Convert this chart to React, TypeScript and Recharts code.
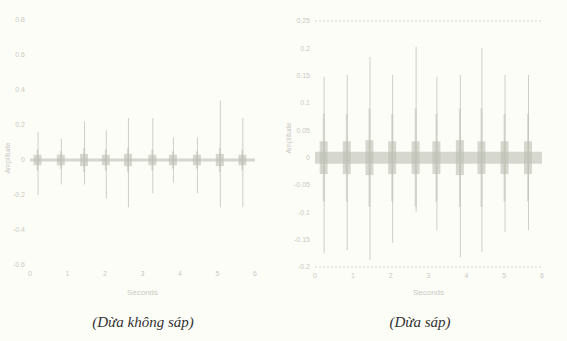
import { ComposedChart, Bar, XAxis, YAxis, ReferenceArea, ReferenceLine } from 'recharts';

// Left panel (Dừa không sáp): burst times in seconds and spike extents
const leftTimes = [0.21, 0.83, 1.45, 2.03, 2.62, 3.27, 3.82, 4.46, 5.07, 5.67];
const leftHigh = [0.16, 0.12, 0.22, 0.17, 0.24, 0.24, 0.13, 0.13, 0.34, 0.24];
const leftLow = [-0.2, -0.14, -0.14, -0.22, -0.27, -0.19, -0.13, -0.19, -0.27, -0.27];
const leftMid = [0.06, 0.05, 0.07, 0.06, 0.07, 0.06, 0.05, 0.05, 0.07, 0.06];
const leftCore = [0.03, 0.03, 0.035, 0.03, 0.035, 0.03, 0.03, 0.03, 0.035, 0.03];
const leftYTicks = [-0.6, -0.4, -0.2, 0, 0.2, 0.4, 0.6, 0.8];
const leftNoise = 0.008;

// Right panel (Dừa sáp)
const rightTimes = [0.24, 0.85, 1.45, 2.05, 2.67, 3.22, 3.84, 4.41, 5.02, 5.64];
const rightHigh = [0.148, 0.151, 0.184, 0.151, 0.203, 0.148, 0.151, 0.2, 0.151, 0.151];
const rightLow = [-0.175, -0.169, -0.187, -0.156, -0.1, -0.133, -0.182, -0.173, -0.136, -0.133];
const rightMid = [0.08, 0.08, 0.09, 0.08, 0.09, 0.08, 0.09, 0.09, 0.08, 0.08];
const rightCore = [0.03, 0.03, 0.032, 0.03, 0.03, 0.03, 0.032, 0.03, 0.03, 0.03];
const rightYTicks = [-0.2, -0.15, -0.1, -0.05, 0, 0.05, 0.1, 0.15, 0.2, 0.25];
const rightNoise = 0.011;

const xTicks = [0, 1, 2, 3, 4, 5, 6];

const inkLight = '#cdcfc6';
const inkDense = '#bcbfb4';
const textColor = '#c9cac3';
const sans = 'Liberation Sans, Arial, sans-serif';
const tickStyle = { fontSize: 7, fill: textColor, fontFamily: sans };

function buildRows(times: number[], high: number[], low: number[], mid: number[], core: number[]) {
  return times.map((t, i) => ({
    t,
    spike: [low[i], high[i]],
    mid: [-mid[i], mid[i]],
    core: [-core[i], core[i]],
  }));
}

const leftRows = buildRows(leftTimes, leftHigh, leftLow, leftMid, leftCore);
const rightRows = buildRows(rightTimes, rightHigh, rightLow, rightMid, rightCore);

interface PanelProps {
  rows: any[];
  yDomain: [number, number];
  yTicks: number[];
  noise: number;
  margin: { top: number; right: number; left: number; bottom: number };
  yWidth: number;
  xHeight: number;
  framed: boolean;
  labelX: number;
  labelY: number;
  width: number;
}

function Panel({ rows, yDomain, yTicks, noise, margin, yWidth, xHeight, framed, labelX, labelY, width }: PanelProps) {
  // rotated y-axis title, placed where the scan shows it
  const AmplitudeLabel = () => (
    <text
      x={labelX}
      y={labelY}
      transform={`rotate(-90, ${labelX}, ${labelY})`}
      textAnchor="middle"
      dominantBaseline="central"
      fontSize={7}
      fill={textColor}
      fontFamily={sans}
    >
      Amplitude
    </text>
  );

  return (
    <ComposedChart width={width} height={300} data={rows} margin={margin}>
      <XAxis
        xAxisId="main"
        dataKey="t"
        type="number"
        domain={[0, 6]}
        ticks={xTicks}
        tick={tickStyle}
        tickLine={false}
        tickSize={4}
        height={xHeight}
        axisLine={framed ? { stroke: '#d2d3cc', strokeDasharray: '2 2' } : false}
        label={{ value: 'Seconds', position: 'insideBottom', offset: 5, style: { fontSize: 8, fill: textColor, fontFamily: sans } }}
      />
      <XAxis xAxisId="mid" dataKey="t" type="number" domain={[0, 6]} height={0} hide />
      <XAxis xAxisId="core" dataKey="t" type="number" domain={[0, 6]} height={0} hide />
      <YAxis
        type="number"
        domain={yDomain}
        ticks={yTicks}
        tick={tickStyle}
        tickLine={false}
        tickSize={3}
        axisLine={false}
        width={yWidth}
        label={{ content: AmplitudeLabel }}
      />
      {framed && (
        <ReferenceLine xAxisId="main" y={yDomain[1]} stroke="#d2d3cc" strokeDasharray="2 2" />
      )}
      <ReferenceArea xAxisId="main" x1={0} x2={6} y1={-noise} y2={noise} fill={inkDense} fillOpacity={0.6} stroke="none" />
      <Bar xAxisId="main" dataKey="spike" barSize={1} fill={inkLight} isAnimationActive={false} />
      <Bar xAxisId="mid" dataKey="mid" barSize={2} fill={inkDense} fillOpacity={0.5} isAnimationActive={false} />
      <Bar xAxisId="core" dataKey="core" barSize={8} fill={inkDense} fillOpacity={0.6} isAnimationActive={false} />
    </ComposedChart>
  );
}

export default function App() {
  const caption = {
    position: 'absolute' as const,
    width: 200,
    top: 314,
    textAlign: 'center' as const,
    fontFamily: 'Liberation Serif, Times New Roman, serif',
    fontStyle: 'italic',
    fontSize: 15,
    color: '#333',
  };
  return (
    <div style={{ position: 'absolute', left: 0, top: 0, width: 567, height: 341, background: '#fdfdf8', overflow: 'hidden' }}>
      <div style={{ position: 'absolute', left: 0, top: 0 }}>
        <Panel
          rows={leftRows}
          yDomain={[-0.6, 0.8]}
          yTicks={leftYTicks}
          noise={leftNoise}
          margin={{ top: 20, right: 25, left: 0, bottom: 0 }}
          yWidth={30}
          xHeight={35}
          framed={false}
          labelX={7}
          labelY={158}
          width={280}
        />
      </div>
      <div style={{ position: 'absolute', left: 280, top: 0 }}>
        <Panel
          rows={rightRows}
          yDomain={[-0.2, 0.25]}
          yTicks={rightYTicks}
          noise={rightNoise}
          margin={{ top: 21, right: 25, left: 0, bottom: 0 }}
          yWidth={35}
          xHeight={33}
          framed={true}
          labelX={8}
          labelY={138}
          width={287}
        />
      </div>
      <div style={{ ...caption, left: 43 }}>(Dừa không sáp)</div>
      <div style={{ ...caption, left: 320 }}>(Dừa sáp)</div>
    </div>
  );
}
